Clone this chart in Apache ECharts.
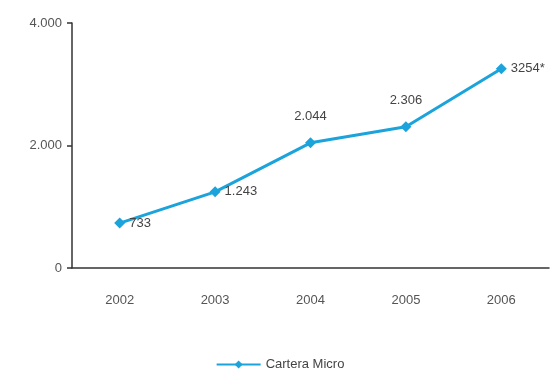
<!DOCTYPE html>
<html>
<head>
<meta charset="utf-8">
<script src="https://cdn.jsdelivr.net/npm/echarts@6/dist/echarts.min.js"></script>
<style>
  html, body { margin: 0; padding: 0; background: #fff; }
  #chart { width: 560px; height: 375px; }
</style>
</head>
<body>
<div id="chart"></div>
<script>
// 数据
var years = ['2002', '2003', '2004', '2005', '2006'];
var cartera = [733, 1243, 2044, 2306, 3254];
var valueLabels = ['733', '1.243', '2.044', '2.306', '3254*'];
var labelPos = ['right', 'right', 'top', 'top', 'right'];

(function () {
  var myChart = echarts.init(document.getElementById('chart'))
  // 千位用点号
  function fmt(v) {
    return String(v).replace(/\B(?=(\d{3})+(?!\d))/g, '.')
  }
  var points = cartera.map(function (v, i) {
    return {
      value: v,
      label: {
        position: labelPos[i],
        distance: labelPos[i] === 'top' ? 14 : 4,
        formatter: valueLabels[i]
      }
    }
  })
  var option = {
    animation: false,
    textStyle: { fontFamily: 'Liberation Sans, Arial, sans-serif' },
    grid: {
      left: 72,
      right: 11,
      top: 23,
      bottom: 107
    },
    legend: {
      bottom: -1,
      left: 'center',
      itemWidth: 44,
      itemHeight: 10,
      textStyle: { color: '#444', fontSize: 13 },
      data: ['Cartera Micro']
    },
    xAxis: {
      type: 'category',
      data: years,
      boundaryGap: true,
      axisLine: { lineStyle: { color: '#333', width: 1.5 } },
      axisTick: { length: 5, lineStyle: { color: '#333', width: 1.5 } },
      axisLabel: { color: '#555', fontSize: 13, margin: 26 }
    },
    yAxis: {
      type: 'value',
      min: 0,
      max: 4000,
      interval: 2000,
      axisLine: { show: true, lineStyle: { color: '#333', width: 1.5 } },
      axisTick: { show: true, length: 5, lineStyle: { color: '#333', width: 1.5 } },
      splitLine: { show: false },
      axisLabel: {
        color: '#555',
        fontSize: 13,
        margin: 10,
        formatter: function (v) { return fmt(v) }
      }
    },
    series: [{
      name: 'Cartera Micro',
      type: 'line',
      data: points,
      symbol: 'diamond',
      symbolSize: 11,
      itemStyle: { color: '#1ba3dc' },
      lineStyle: { color: '#1ba3dc', width: 3 },
      label: {
        show: true,
        color: '#444',
        fontSize: 13
      }
    }]
  }
  myChart.setOption(option)
})()
</script>
</body>
</html>
